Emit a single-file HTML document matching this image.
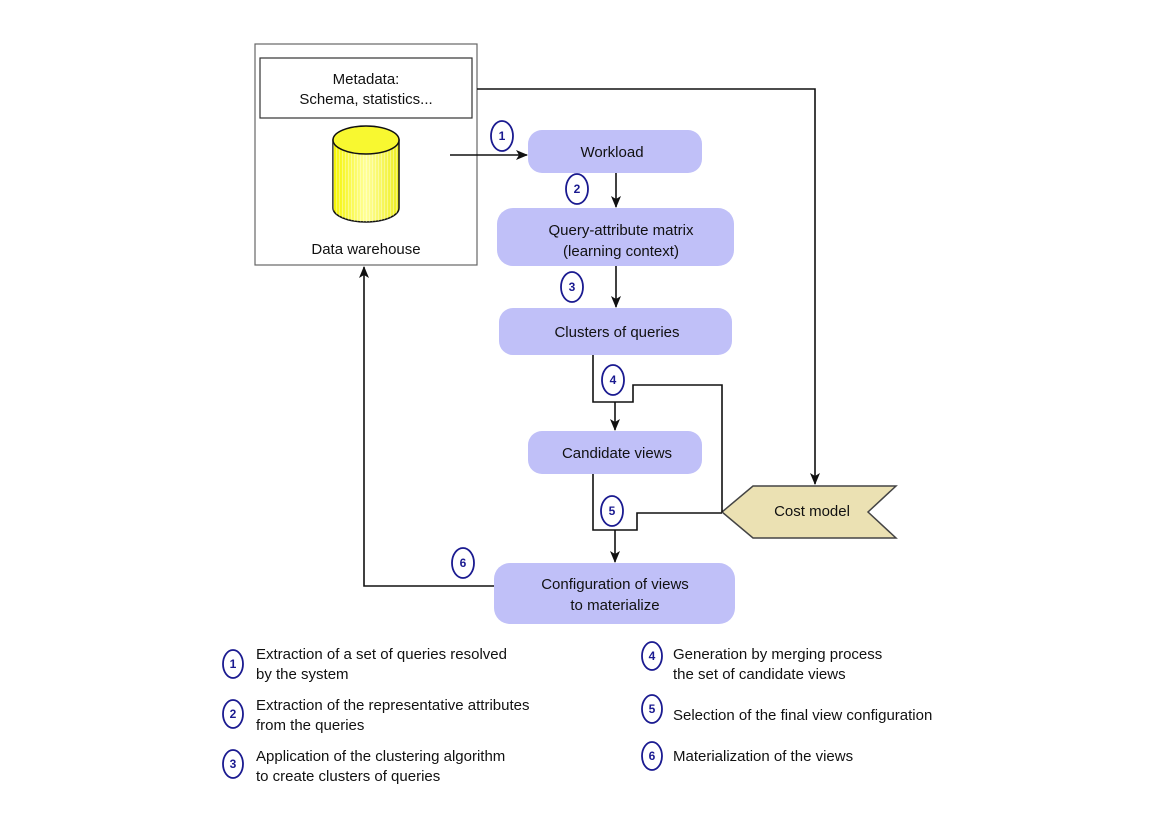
<!DOCTYPE html>
<html><head><meta charset="utf-8"><style>
html,body{margin:0;padding:0;background:#fff;}
svg{display:block;font-family:"Liberation Sans",sans-serif;}
</style></head><body>
<svg width="1170" height="827" viewBox="0 0 1170 827" xmlns="http://www.w3.org/2000/svg">
<defs>
<marker id="a" markerWidth="12" markerHeight="10" refX="11" refY="5" orient="auto" markerUnits="userSpaceOnUse">
<path d="M0,0 L12,5 L0,10 L3,5 Z" fill="#111"/></marker>
<linearGradient id="cyl" x1="0" x2="1">
<stop offset="0" stop-color="#f4f400"/><stop offset="0.5" stop-color="#ffff99"/><stop offset="1" stop-color="#eeee20"/></linearGradient>
<pattern id="str" width="3" height="10" patternUnits="userSpaceOnUse"><rect width="1" height="10" fill="#fff" opacity="0.35"/></pattern>
</defs>
<g fill="none" stroke="#111" stroke-width="1.6">
<rect x="255" y="44" width="222" height="221" stroke="#666" stroke-width="1.2"/>
<rect x="260" y="58" width="212" height="60" stroke="#333" stroke-width="1.2"/>
</g>
<path d="M333,140 L333,208 A33,14 0 0 0 399,208 L399,140 Z" fill="url(#cyl)" stroke="#111" stroke-width="1.5"/>
<path d="M333,140 L333,208 A33,14 0 0 0 399,208 L399,140 Z" fill="url(#str)"/>
<ellipse cx="366" cy="140" rx="33" ry="14" fill="#f8f830" stroke="#111" stroke-width="1.5"/>
<g font-size="15" fill="#111" text-anchor="middle">
<text x="366" y="84">Metadata:</text>
<text x="366" y="104">Schema, statistics...</text>
<text x="366" y="254">Data warehouse</text>
</g>
<g fill="#c0c0f8">
<rect x="528" y="130" width="174" height="43" rx="14"/>
<rect x="497" y="208" width="237" height="58" rx="16"/>
<rect x="499" y="308" width="233" height="47" rx="14"/>
<rect x="528" y="431" width="174" height="43" rx="14"/>
<rect x="494" y="563" width="241" height="61" rx="16"/>
</g>
<path d="M722,512 L753,486 L896,486 L868,512 L896,538 L753,538 Z" fill="#ebe1b3" stroke="#444" stroke-width="1.5"/>
<g font-size="15" fill="#111" text-anchor="middle">
<text x="612" y="157">Workload</text>
<text x="621" y="235">Query-attribute matrix</text>
<text x="621" y="256">(learning context)</text>
<text x="617" y="337">Clusters of queries</text>
<text x="617" y="458">Candidate views</text>
<text x="615" y="589">Configuration of views</text>
<text x="615" y="610">to materialize</text>
<text x="812" y="516">Cost model</text>
</g>
<g fill="none" stroke="#111" stroke-width="1.6">
<path d="M477,89 L815,89 L815,484" marker-end="url(#a)"/>
<path d="M450,155 L527,155" marker-end="url(#a)"/>
<path d="M616,173 L616,207" marker-end="url(#a)"/>
<path d="M616,266 L616,307" marker-end="url(#a)"/>
<path d="M593,355 L593,402 L633,402 L633,385 L722,385 L722,512"/>
<path d="M615,402 L615,430" marker-end="url(#a)"/>
<path d="M593,474 L593,530 L637,530 L637,513 L722,513"/>
<path d="M615,530 L615,562" marker-end="url(#a)"/>
<path d="M494,586 L364,586 L364,267" marker-end="url(#a)"/>
</g>
<g fill="#fff" stroke="#1a1a90" stroke-width="1.8">
<ellipse cx="502" cy="136" rx="11" ry="15"/>
<ellipse cx="577" cy="189" rx="11" ry="15"/>
<ellipse cx="572" cy="287" rx="11" ry="15"/>
<ellipse cx="613" cy="380" rx="11" ry="15"/>
<ellipse cx="612" cy="511" rx="11" ry="15"/>
<ellipse cx="463" cy="563" rx="11" ry="15"/>
<ellipse cx="233" cy="664" rx="10" ry="14"/>
<ellipse cx="233" cy="714" rx="10" ry="14"/>
<ellipse cx="233" cy="764" rx="10" ry="14"/>
<ellipse cx="652" cy="656" rx="10" ry="14"/>
<ellipse cx="652" cy="709" rx="10" ry="14"/>
<ellipse cx="652" cy="756" rx="10" ry="14"/>
</g>
<g font-size="12" font-weight="bold" fill="#1a1a90" text-anchor="middle">
<text x="502" y="140">1</text>
<text x="577" y="193">2</text>
<text x="572" y="291">3</text>
<text x="613" y="384">4</text>
<text x="612" y="515">5</text>
<text x="463" y="567">6</text>
<text x="233" y="668">1</text>
<text x="233" y="718">2</text>
<text x="233" y="768">3</text>
<text x="652" y="660">4</text>
<text x="652" y="713">5</text>
<text x="652" y="760">6</text>
</g>
<g font-size="15" fill="#111">
<text x="256" y="659">Extraction of a set of queries resolved</text>
<text x="256" y="679">by the system</text>
<text x="256" y="710">Extraction of the representative attributes</text>
<text x="256" y="730">from the queries</text>
<text x="256" y="761">Application of the clustering algorithm</text>
<text x="256" y="781">to create clusters of queries</text>
<text x="673" y="659">Generation by merging process</text>
<text x="673" y="679">the set of candidate views</text>
<text x="673" y="720">Selection of the final view configuration</text>
<text x="673" y="761">Materialization of the views</text>
</g>
</svg>
</body></html>
